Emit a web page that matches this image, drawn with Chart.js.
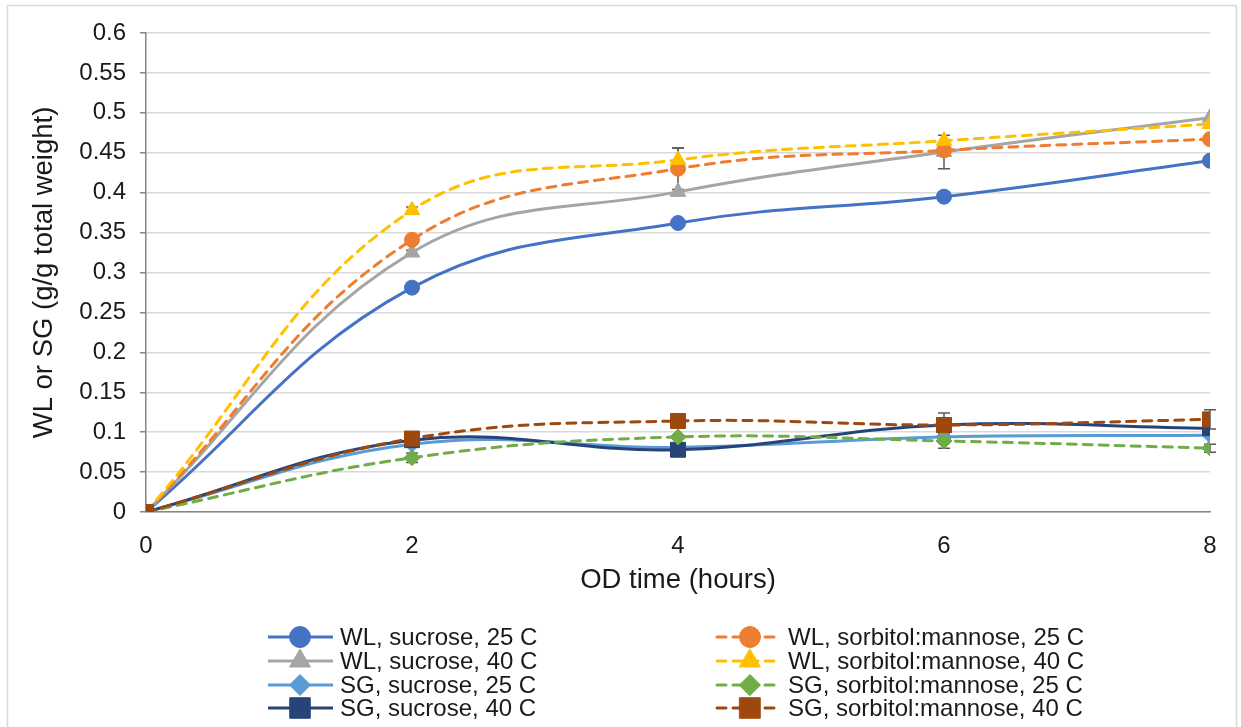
<!DOCTYPE html>
<html>
<head>
<meta charset="utf-8">
<script src="https://cdn.jsdelivr.net/npm/chart.js@4.4.1/dist/chart.umd.min.js"></script>
<style>
  html, body { margin: 0; padding: 0; background: #fff; }
</style>
</head>
<body>
<canvas id="myChart" width="1241" height="727"></canvas>
<script>
// time points (hours)
const hours = [0, 2, 4, 6, 8];

// series values
const wlSucrose25 = [0, 0.281, 0.362, 0.395, 0.440];
const wlSucrose40 = [0, 0.325, 0.401, 0.451, 0.494];
const sgSucrose25 = [0, 0.085, 0.081, 0.094, 0.096];
const sgSucrose40 = [0, 0.090, 0.078, 0.109, 0.105];
const wlSorb25 = [0, 0.341, 0.430, 0.453, 0.467];
const wlSorb40 = [0, 0.378, 0.441, 0.465, 0.486];
const sgSorb25 = [0, 0.068, 0.094, 0.089, 0.080];
const sgSorb40 = [0, 0.092, 0.114, 0.109, 0.116];

// error bar half-widths
const errWlSucrose40 = [0, 0.003, 0, 0.021, 0];
const errWlSorb25 = [0, 0.003, 0.026, 0, 0];
const errWlSorb40 = [0, 0.004, 0.015, 0, 0];
const errSgSucrose40 = [0, 0, 0, 0.015, 0];
const errSgSorb25 = [0, 0.006, 0, 0.009, 0.005];
const errSgSorb40 = [0, 0, 0, 0, 0.012];

const seriesNames = [
  'WL, sucrose, 25 C', 'WL, sucrose, 40 C', 'SG, sucrose, 25 C', 'SG, sucrose, 40 C',
  'WL, sorbitol:mannose, 25 C', 'WL, sorbitol:mannose, 40 C', 'SG, sorbitol:mannose, 25 C', 'SG, sorbitol:mannose, 40 C'
];
const seriesValues = [wlSucrose25, wlSucrose40, sgSucrose25, sgSucrose40, wlSorb25, wlSorb40, sgSorb25, sgSorb40];
const seriesErrors = [null, errWlSucrose40, null, errSgSucrose40, errWlSorb25, errWlSorb40, errSgSorb25, errSgSorb40];

const xTicks = [0, 2, 4, 6, 8];
const yMin = 0, yMax = 0.6, yStep = 0.05;

const colors = ['#4472C4', '#A5A5A5', '#5B9BD5', '#264478', '#ED7D31', '#FFC000', '#70AD47', '#9E480E'];
const styles = ['circle', 'triangle', 'rectRot', 'rect', 'circle', 'triangle', 'rectRot', 'rect'];
const chartRadius = {circle: 7.5, triangle: 9, rectRot: 8, rect: 10.6};
const legendRadius = {circle: 10.5, triangle: 12, rectRot: 10.5, rect: 14.5};
const FONT = 'Liberation Sans, Arial, sans-serif';
const TEXT = '#1a1a1a';

const datasets = seriesNames.map((name, i) => ({
  label: name,
  data: seriesValues[i].map((v, j) => ({x: hours[j], y: v})),
  errors: seriesErrors[i],
  borderColor: colors[i],
  backgroundColor: colors[i],
  borderWidth: 3,
  borderDash: i >= 4 ? [9, 7] : [],
  borderCapStyle: i >= 4 ? 'round' : 'butt',
  pointStyle: styles[i],
  pointRadius: chartRadius[styles[i]],
  pointBorderWidth: 1,
  pointBorderColor: colors[i],
  pointBackgroundColor: colors[i],
  tension: 0.4,
  order: seriesNames.length - i
}));

const errorBars = {
  id: 'errorBars',
  beforeDatasetsDraw(chart) {
    const {ctx, scales: {x, y}} = chart;
    ctx.save();
    ctx.strokeStyle = '#595959';
    ctx.lineWidth = 1.5;
    chart.data.datasets.forEach(ds => {
      if (!ds.errors) return;
      ds.data.forEach((p, j) => {
        const e = ds.errors[j];
        if (!e) return;
        const px = x.getPixelForValue(p.x);
        const top = y.getPixelForValue(p.y + e);
        const bot = y.getPixelForValue(p.y - e);
        ctx.beginPath();
        ctx.moveTo(px, top); ctx.lineTo(px, bot);
        ctx.moveTo(px - 6, top); ctx.lineTo(px + 6, top);
        ctx.moveTo(px - 6, bot); ctx.lineTo(px + 6, bot);
        ctx.stroke();
      });
    });
    ctx.restore();
  }
};

const frameAndLegend = {
  id: 'frameAndLegend',
  beforeDraw(chart) {
    const ctx = chart.ctx;
    ctx.save();
    ctx.fillStyle = '#fff';
    ctx.fillRect(0, 0, chart.width, chart.height);
    ctx.strokeStyle = '#d9d9d9';
    ctx.lineWidth = 1.5;
    ctx.strokeRect(7.5, 5.5, 1229, 740);
    ctx.restore();
  },
  afterDraw(chart) {
    const ctx = chart.ctx;
    const rows = [637, 661, 685, 708];
    const cols = [{x0: 268, x1: 333, m: 300, t: 340}, {x0: 717, x1: 778, m: 750, t: 788}];
    ctx.save();
    chart.data.datasets.forEach((ds, i) => {
      const c = cols[Math.floor(i / 4)];
      const yy = rows[i % 4];
      ctx.strokeStyle = ds.borderColor;
      ctx.fillStyle = ds.backgroundColor;
      ctx.lineWidth = 3;
      ctx.lineCap = ds.borderCapStyle;
      ctx.setLineDash(ds.borderDash);
      ctx.beginPath();
      ctx.moveTo(c.x0, yy); ctx.lineTo(c.x1, yy);
      ctx.stroke();
      ctx.setLineDash([]);
      ctx.lineWidth = 1;
      Chart.helpers.drawPoint(ctx, {pointStyle: ds.pointStyle, radius: legendRadius[ds.pointStyle], rotation: 0, borderWidth: 1}, c.m, yy);
      ctx.fillStyle = TEXT;
      ctx.font = '24px ' + FONT;
      ctx.textBaseline = 'middle';
      ctx.textAlign = 'left';
      ctx.fillText(ds.label, c.t, yy + 1);
    });
    ctx.restore();
  }
};

const ctx = document.getElementById('myChart').getContext('2d');
const myChart = new Chart(ctx, {
  type: 'line',
  data: {datasets},
  options: {
    responsive: false,
    animation: false,
    devicePixelRatio: 1,
    layout: {padding: {left: 24, right: 31, top: 33, bottom: 128.5}},
    scales: {
      x: {
        type: 'linear',
        min: xTicks[0],
        max: xTicks[xTicks.length - 1],
        afterBuildTicks: s => { s.ticks = xTicks.map(v => ({value: v})); },
        afterFit: s => { s.height = 86.5; },
        ticks: {color: TEXT, font: {family: FONT, size: 24}, padding: 20, maxRotation: 0},
        grid: {drawOnChartArea: false, drawTicks: false},
        border: {color: '#868686', width: 1.5},
        title: {display: true, text: 'OD time (hours)', color: TEXT, font: {family: FONT, size: 27.5}, padding: {top: 4, bottom: 2}}
      },
      y: {
        min: yMin,
        max: yMax,
        afterFit: s => { s.width = 122; },
        ticks: {
          stepSize: yStep,
          color: TEXT,
          font: {family: FONT, size: 24},
          padding: 14,
          callback: v => String(+v.toFixed(2))
        },
        grid: {color: '#d9d9d9', lineWidth: 1.5, tickColor: '#868686', tickLength: 6},
        border: {color: '#868686', width: 1.5},
        title: {display: true, text: 'WL or SG (g/g total weight)', color: TEXT, font: {family: FONT, size: 27.5}, padding: {top: 4, bottom: 4}}
      }
    },
    plugins: {
      legend: {display: false},
      tooltip: {enabled: false}
    }
  },
  plugins: [errorBars, frameAndLegend]
});
</script>
</body>
</html>
